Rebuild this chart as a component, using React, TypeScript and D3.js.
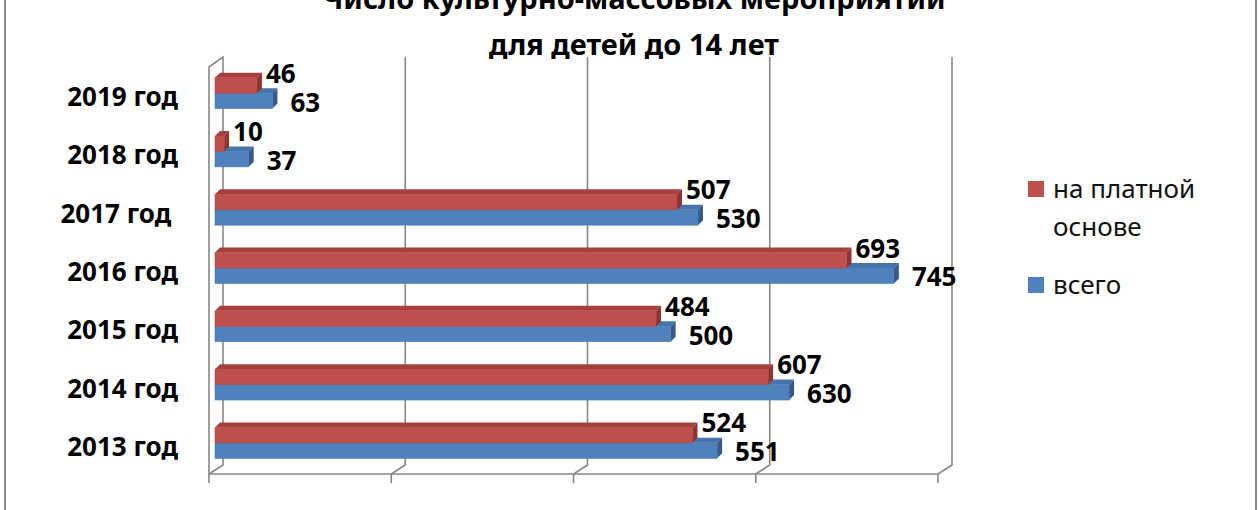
import React from 'react';
import * as d3 from 'd3';

// categories are listed top to bottom as in the chart
const categories = ['2019 год', '2018 год', '2017 год ', '2016 год', '2015 год', '2014 год', '2013 год'];
const paidValues = [46, 10, 507, 693, 484, 607, 524];
const totalValues = [63, 37, 530, 745, 500, 630, 551];
const seriesNames = ['на платной основе', 'всего'];
const titleLines = ['Число культурно-массовых мероприятий', 'для детей до 14 лет'];

const W = 1260;
const H = 510;
const FONT = '"Noto Sans", "DejaVu Sans", sans-serif';

const App: React.FC = () => {
  const x = d3.scaleLinear().domain([0, 800]).range([209, 938]);
  const y = d3.scaleBand<string>().domain(categories).range([64, 472]).paddingInner(0.47).paddingOuter(0.235);
  const ys = d3.scaleBand<string>().domain(seriesNames).range([0, y.bandwidth()]);

  const ticks = x.ticks(4);
  const backDx = 14;
  const barShift = 6; // bars sit a little behind the front edge
  const dx = 5, dy = 5; // bar depth
  const backTop = 57, backBottom = 463, floorY = 474;

  const colors = [
    { front: '#C0504D', top: '#A4403D', side: '#8C3533', stroke: '#B24946' },
    { front: '#4F81BD', top: '#4573AA', side: '#36598A', stroke: '#4A79B2' },
  ];

  const bar = (cat: string, s: number, v: number) => {
    const c = colors[s];
    const x0 = x(0) + barShift;
    const x1 = x(v) + barShift;
    const yt = (y(cat) || 0) + (ys(seriesNames[s]) || 0);
    const h = ys.bandwidth();
    return (
      <g key={cat + s}>
        <polygon points={`${x0},${yt} ${x0 + dx},${yt - dy} ${x1 + dx},${yt - dy} ${x1},${yt}`} fill={c.top} />
        <polygon points={`${x1},${yt} ${x1 + dx},${yt - dy} ${x1 + dx},${yt + h - dy} ${x1},${yt + h}`} fill={c.side} />
        <rect x={x0} y={yt} width={x1 - x0} height={h} fill={c.front} stroke={c.stroke} strokeWidth={0.6} />
      </g>
    );
  };

  return (
    <svg width={W} height={H} style={{ position: 'absolute', left: 0, top: 0, background: '#fff' }}>
      {/* outer frame */}
      <rect x={5} y={-5} width={1251} height={H + 10} fill="none" stroke="#8a8a8a" strokeWidth={2} />

      {/* title */}
      <g fontFamily={FONT} fontWeight="bold" fontSize={29} textAnchor="middle" fill="#000">
        <text x={634} y={9}>{titleLines[0]}</text>
        <text x={634} y={55}>{titleLines[1]}</text>
      </g>

      {/* back gridlines + floor edges */}
      <g stroke="#878787" strokeWidth={1.6} fill="none">
        {ticks.map((t, i) => (
          <g key={t}>
            {i > 0 && <line x1={x(t) + backDx} y1={backTop} x2={x(t) + backDx} y2={backBottom} />}
            <polyline points={`${x(t) + backDx},${backBottom} ${x(t) + backDx},${backBottom + 2} ${x(t)},${floorY} ${x(t)},${floorY + 9}`} />
          </g>
        ))}
        {/* left wall */}
        <polyline points={`${x(0)},${floorY} ${x(0)},${backTop + 10} ${x(0) + backDx},${backTop} ${x(0) + backDx},${backBottom}`} />
        <line x1={x(0)} y1={floorY} x2={x(800)} y2={floorY} />
      </g>

      {/* bars */}
      {categories.map((cat, i) => (
        <g key={cat}>
          {bar(cat, 1, totalValues[i])}
          {bar(cat, 0, paidValues[i])}
        </g>
      ))}

      {/* data labels */}
      <g fontFamily={FONT} fontWeight="bold" fontSize={26} fill="#000">
        {categories.map((cat, i) => {
          const yt = y(cat) || 0;
          const h = ys.bandwidth();
          return (
            <g key={cat}>
              <text x={x(paidValues[i]) + barShift + 9} y={yt + 5}>{paidValues[i]}</text>
              <text x={x(totalValues[i]) + barShift + 18} y={yt + 2 * h + 3}>{totalValues[i]}</text>
            </g>
          );
        })}
      </g>

      {/* category labels */}
      <g fontFamily={FONT} fontWeight="bold" fontSize={26} textAnchor="end" fill="#000">
        {categories.map((cat) => (
          <text key={cat} x={178} y={(y(cat) || 0) + ys.bandwidth() + 13} style={{ whiteSpace: 'pre' }}>{cat}</text>
        ))}
      </g>

      {/* legend */}
      <g fontFamily={FONT} fontSize={26} fill="#111">
        <rect x={1028} y={181} width={16} height={16} fill={colors[0].front} />
        <text x={1053} y={198}>на платной</text>
        <text x={1053} y={236}>основе</text>
        <rect x={1028} y={277} width={16} height={16} fill={colors[1].front} />
        <text x={1053} y={294}>всего</text>
      </g>
    </svg>
  );
};

export default App;
